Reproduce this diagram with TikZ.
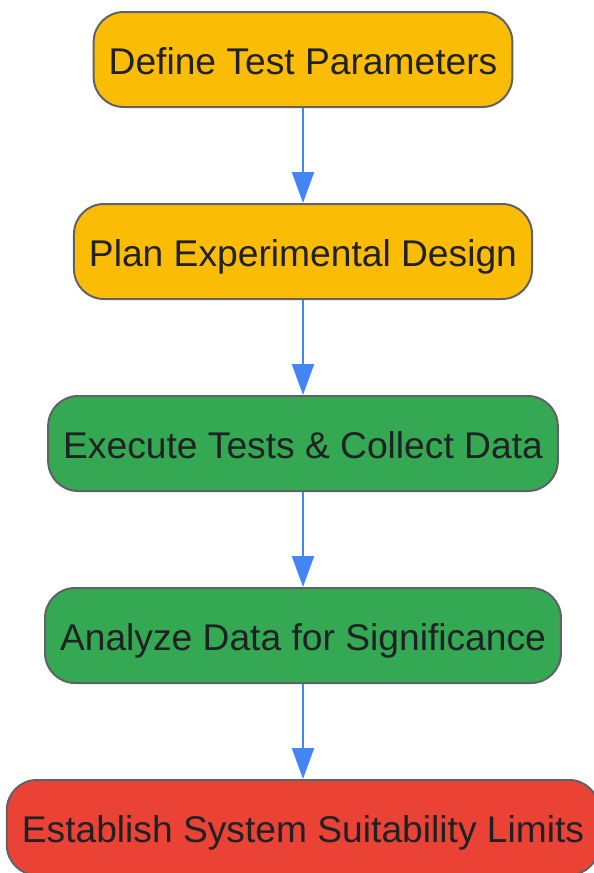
\documentclass[tikz,border=0pt]{standalone}
\usepackage{fontspec}
\setmainfont{Liberation Sans}
\usetikzlibrary{arrows.meta}
\definecolor{stepyellow}{HTML}{FBBC05}
\definecolor{stepgreen}{HTML}{34A853}
\definecolor{stepred}{HTML}{EA4335}
\definecolor{stepborder}{HTML}{5F6368}
\definecolor{steptext}{HTML}{202124}
\definecolor{flowblue}{HTML}{4285F4}
\begin{document}
\begin{tikzpicture}[x=1pt, y=-1pt,
    stepbox/.style={draw=stepborder, line width=2pt, rounded corners=30pt,
        minimum height=95pt, inner xsep=15pt, text=steptext,
        text height=32pt, text depth=2.5pt,
        font=\fontsize{37.2}{40}\selectfont},
    flow/.style={draw=flowblue, line width=2pt,
        -{Triangle[width=22pt, length=31pt]}}]
    \useasboundingbox (0,0) rectangle (594,873);
    \def\cx{303}

    \node[stepbox, fill=stepyellow] (define)  at (\cx, 59.5)  {Define Test Parameters};
    \node[stepbox, fill=stepyellow] (plan)    at (\cx, 251.5) {Plan Experimental Design};
    \node[stepbox, fill=stepgreen]  (execute) at (\cx, 443.5) {Execute Tests \& Collect Data};
    \node[stepbox, fill=stepgreen]  (analyze) at (\cx, 635.5) {Analyze Data for Significance};
    \node[stepbox, fill=stepred]    (limits)  at (\cx, 827.5) {Establish System Suitability Limits};

    \draw [flow] (define)  -- (plan);
    \draw [flow] (plan)    -- (execute);
    \draw [flow] (execute) -- (analyze);
    \draw [flow] (analyze) -- (limits);
\end{tikzpicture}
\end{document}
